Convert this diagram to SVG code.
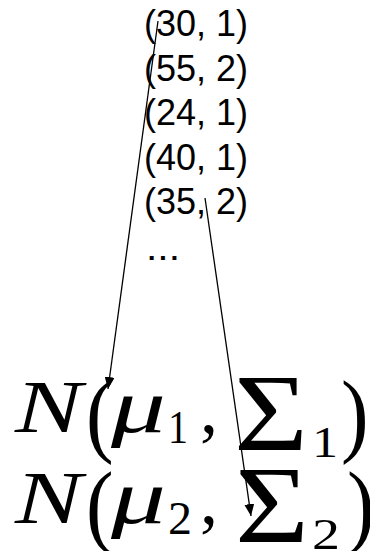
<svg xmlns="http://www.w3.org/2000/svg" width="370" height="551" viewBox="0 0 370 551">
<style>
.d{font-family:"Liberation Sans",Arial,sans-serif;font-size:37px;fill:#000}
.m{font-family:"Liberation Serif","DejaVu Serif",serif;fill:#000}
.i{font-style:italic}
.p{font-family:"Liberation Serif","DejaVu Serif",serif;font-size:72px;fill:#000}
.c{stroke:#000;stroke-width:1.3;fill:none}
</style>
<defs>
<marker id="ah" markerWidth="12" markerHeight="10" refX="12" refY="5" orient="auto" markerUnits="userSpaceOnUse">
<path d="M0,0 L12,5 L0,10 Z" fill="#000"/>
</marker>
</defs>
<rect width="370" height="551" fill="#fff"/>
<g id="data">
<text class="d" x="144" y="36" textLength="104" lengthAdjust="spacingAndGlyphs">(30, 1)</text>
<text class="d" x="144" y="80.5" textLength="104" lengthAdjust="spacingAndGlyphs">(55, 2)</text>
<text class="d" x="144" y="125" textLength="104" lengthAdjust="spacingAndGlyphs">(24, 1)</text>
<text class="d" x="144" y="169.5" textLength="104" lengthAdjust="spacingAndGlyphs">(40, 1)</text>
<text class="d" x="144" y="214" textLength="104" lengthAdjust="spacingAndGlyphs">(35, 2)</text>
<text class="d" x="146" y="260" textLength="34" lengthAdjust="spacingAndGlyphs">...</text>
</g>
<g id="gauss1">
<text class="m i" x="15" y="432" font-size="74" textLength="67" lengthAdjust="spacingAndGlyphs">N</text>
<text class="p" transform="translate(86,445) scale(1.15,1.3)">(</text>
<text class="m i" x="111" y="432" font-size="76" textLength="55" lengthAdjust="spacingAndGlyphs">μ</text>
<text class="m" x="168" y="443" font-size="46" textLength="20" lengthAdjust="spacingAndGlyphs">1</text>
<text class="m" x="200" y="432" font-size="72">,</text>
<text class="m" x="234" y="450" font-size="110" textLength="74" lengthAdjust="spacingAndGlyphs">Σ</text>
<text class="m" x="312" y="457" font-size="44" textLength="26" lengthAdjust="spacingAndGlyphs">1</text>
<text class="p" transform="translate(341,445) scale(1.15,1.3)">)</text>
</g>
<g id="gauss2">
<text class="m i" x="15" y="523" font-size="74" textLength="67" lengthAdjust="spacingAndGlyphs">N</text>
<text class="p" transform="translate(86,536) scale(1.15,1.3)">(</text>
<text class="m i" x="111" y="523" font-size="76" textLength="55" lengthAdjust="spacingAndGlyphs">μ</text>
<text class="m" x="168" y="534" font-size="46" textLength="24" lengthAdjust="spacingAndGlyphs">2</text>
<text class="m" x="200" y="523" font-size="72">,</text>
<text class="m" x="235" y="542" font-size="110" textLength="74" lengthAdjust="spacingAndGlyphs">Σ</text>
<text class="m" x="312" y="549" font-size="44" textLength="28" lengthAdjust="spacingAndGlyphs">2</text>
<text class="p" transform="translate(347,536) scale(1.15,1.3)">)</text>
</g>
<g id="connectors">
<line class="c" x1="158" y1="21" x2="108" y2="389" marker-end="url(#ah)"/>
<line class="c" x1="205" y1="198" x2="251" y2="516" marker-end="url(#ah)"/>
</g>
</svg>
